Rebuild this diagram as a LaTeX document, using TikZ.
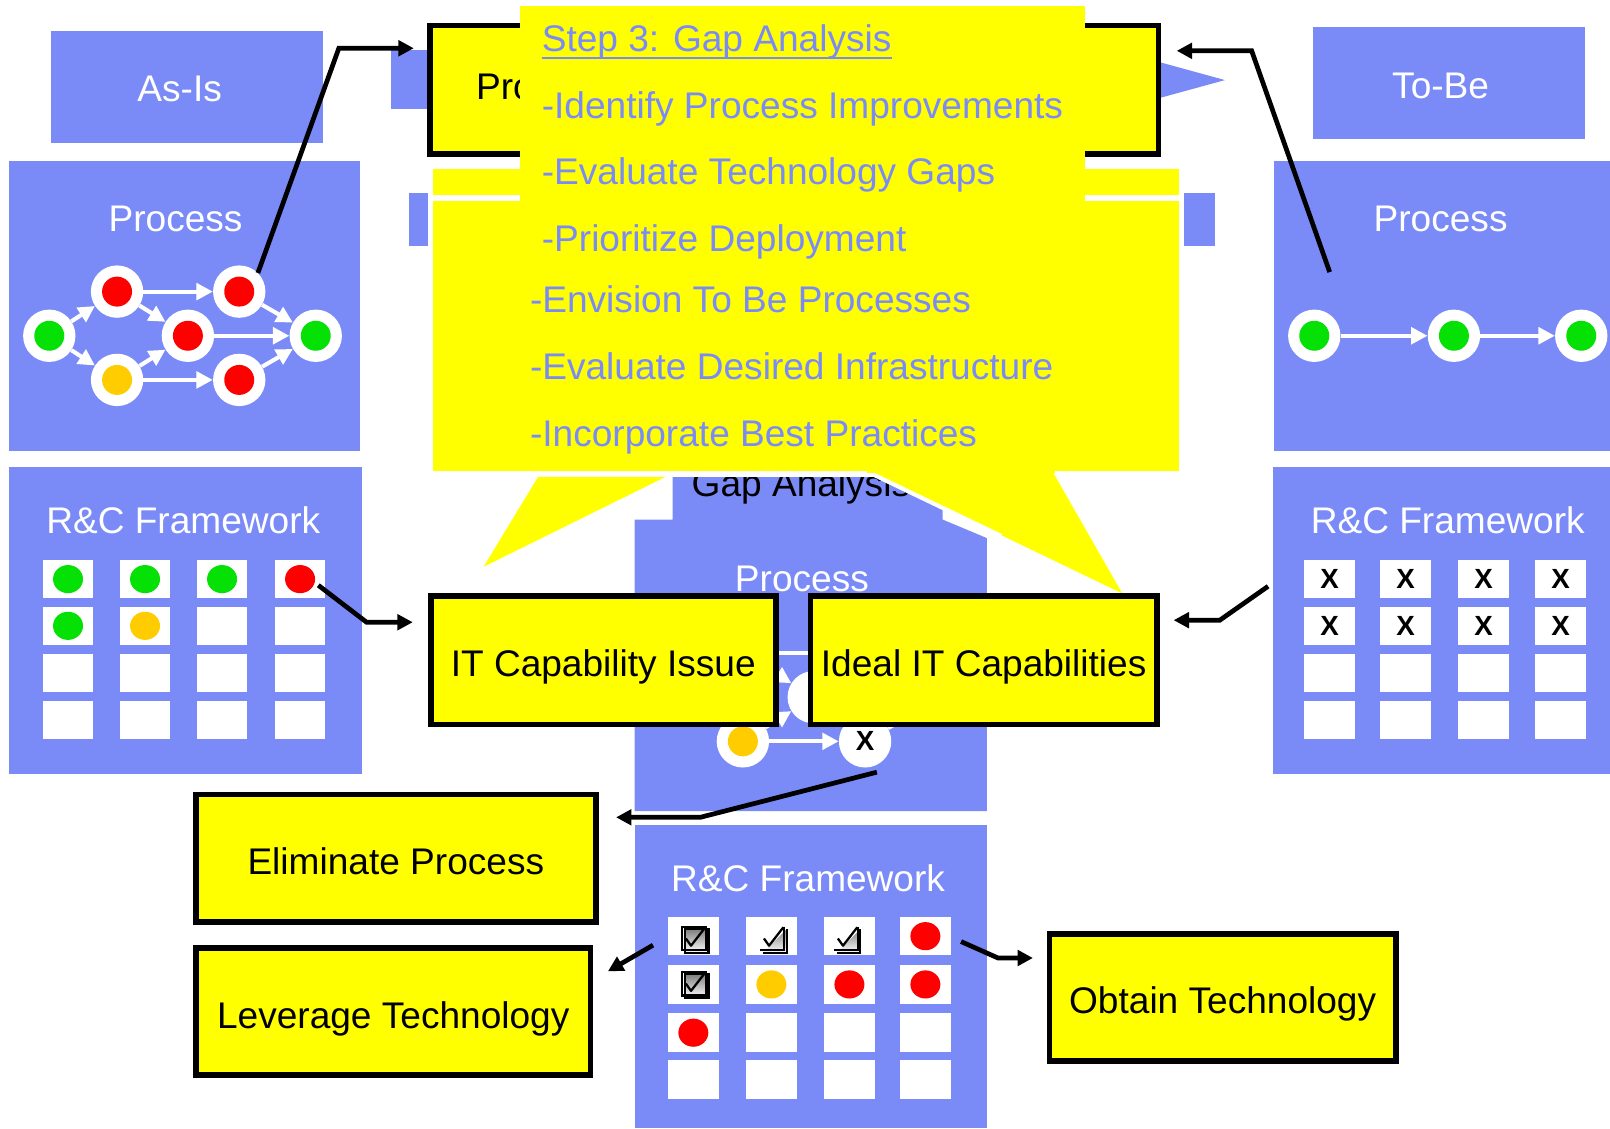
\documentclass[tikz,border=0pt]{standalone}
\usepackage{fontspec}
\setmainfont{Liberation Sans}
\usetikzlibrary{arrows.meta}
\definecolor{slate}{RGB}{122,139,248}
\definecolor{yel}{RGB}{255,255,0}
\definecolor{grn}{RGB}{5,224,5}
\definecolor{rd}{RGB}{255,0,0}
\definecolor{amb}{RGB}{255,204,0}
\definecolor{shade}{RGB}{100,100,100}
\newcommand\slidefont{\fontsize{36.1}{42}\selectfont}
\newcommand\markfont{\fontsize{27}{30}\selectfont\bfseries}

\begin{document}
\begin{tikzpicture}[x=1pt,y=-1pt,
  paneltitle/.style={anchor=base, text=white, font=\slidefont, inner sep=0pt},
  ring/.style={circle, fill=white, minimum size=51pt, inner sep=0pt},
  dotring/.style={ring, path picture={\fill[#1] (path picture bounding box.center) circle (14.6pt);}},
  xring/.style={ring, font=\markfont, text=black},
  flow/.style={white, line width=4pt, -{Triangle[length=16pt,width=16pt]}},
  conn/.style={black, line width=4.6pt, line join=miter, -{Triangle[length=15pt,width=15pt]}},
  ybox/.style={draw=black, fill=yel, line width=5.5pt, inner sep=0pt, font=\slidefont,
               text=black, text height=32pt, text depth=0pt},
  ctext/.style={anchor=base west, inner sep=0pt, text=slate, font=\slidefont},
  xmark/.style={font=\markfont, text=black, inner sep=0pt},
  chkfull/.pic={
    \draw[shade, line width=2pt] (-9,-9) rectangle (14,14);
    \draw[black, line width=2pt] (-11.5,-11.5) rectangle (11.5,11.5);
    \draw[black, line width=2.2pt, line join=round] (-8,0) -- (-3,7) -- (11,-11);
  },
  chkpart/.pic={
    \draw[shade, line width=2pt] (14,-9) -- (14,14) -- (-9,14);
    \draw[black, line width=2pt] (11.5,-11.5) -- (11.5,11.5) -- (-11.5,11.5);
    \draw[black, line width=2.2pt, line join=round] (-8,0) -- (-3,7) -- (11,-11);
  },
]
\useasboundingbox (0,0) rectangle (1568,1099);
\fill[white] (0,0) rectangle (1568,1099);

% ---------- headings ----------
\fill[slate] (50,30) rectangle (314.5,139);
\node[paneltitle] (asis) at (175,99) {As-Is};
\fill[slate] (1278.5,26) rectangle (1543.5,135);
\node[paneltitle] (tobe) at (1403,96) {To-Be};

% ---------- top step: blue arrow behind a framed box ----------
\fill[slate] (381,48.5) rectangle (1100,106.5);
\fill[slate] (1100,52.5) -- (1193,78) -- (1100,103.5) -- cycle;
\node[ybox, minimum width=709.5pt, minimum height=125.5pt] (topbox) at (773.5,87.5) {};
\node[anchor=base west, font=\slidefont, inner sep=0pt] (toptext) at (463.5,96.5) {Pro};

% second row arrow ends
\fill[slate] (398,188) rectangle (425,240);
\fill[slate] (1145,188) rectangle (1183,240);

% ---------- As-Is process ----------
\fill[slate] (9,157) rectangle (351,439);
\node[paneltitle] (lproc) at (171,225) {Process};
\begin{scope}[shift={(48,327)}]
  \node[dotring=grn] (La) at (0,0) {};
  \node[dotring=rd]  (Lb) at (66,-43) {};
  \node[dotring=amb] (Lc) at (66,43) {};
  \node[dotring=rd]  (Ld) at (185,-43) {};
  \node[dotring=rd]  (Le) at (135,0) {};
  \node[dotring=rd]  (Lf) at (185,43) {};
  \node[dotring=grn] (Lg) at (259.5,0) {};
\end{scope}
\foreach \s/\t in {La/Lb,La/Lc,Lb/Ld,Lb/Le,Lc/Le,Lc/Lf,Ld/Lg,Le/Lg,Lf/Lg}
  \draw[flow] (\s) -- (\t);

% ---------- To-Be process ----------
\fill[slate] (1241,157) rectangle (1568,439);
\node[paneltitle] (rproc) at (1403,225) {Process};
\node[dotring=grn] (Ra) at (1280,327) {};
\node[dotring=grn] (Rb) at (1416,327) {};
\node[dotring=grn] (Rc) at (1540,327) {};
\draw[flow] (Ra) -- (Rb);
\draw[flow] (Rb) -- (Rc);

% ---------- As-Is framework ----------
\fill[slate] (9,455) rectangle (353,754);
\node[paneltitle] (lfw) at (178.5,520) {R\&C Framework};
\foreach \c in {42,117,192,268}
  \foreach \r in {545.5,591,637,683}
    \fill[white] (\c,\r) rectangle ++(48.5,37);
\foreach \x/\y/\col in {66.25/564/grn,141.25/564/grn,216.25/564/grn,292.25/564/rd,
                        66.25/609.5/grn,141.25/609.5/amb}
  \fill[\col] (\x,\y) ellipse [x radius=14.6pt, y radius=13.7pt];

% ---------- To-Be framework ----------
\fill[slate] (1240,455) rectangle (1568,754);
\node[paneltitle] (rfw) at (1410,520) {R\&C Framework};
\foreach \c in {1270,1344,1420,1495}
  \foreach \r in {545.5,591,637,683}
    \fill[white] (\c,\r) rectangle ++(50,37);
\foreach \x [count=\i] in {1295,1369,1445,1520}
  \foreach \y [count=\j] in {564,609.5}
    \node[xmark] (rx\i\j) at (\x,\y) {X};

% ---------- gap analysis panel ----------
\fill[slate] (655,440) -- (918,440) -- (918,506) -- (961,524) -- (961,790)
  -- (618,790) -- (618,506) -- (655,506) -- cycle;
\node[anchor=base, font=\slidefont, inner sep=0pt] (gaptitle) at (780,484) {Gap Analysis};
\node[paneltitle] (cproc) at (781,576) {Process};
\begin{scope}[shift={(657.5,679)}]
  \node[dotring=grn] (Ca) at (0,0) {};
  \node[dotring=rd]  (Cb) at (66,-43) {};
  \node[dotring=amb] (Cc) at (66,43) {};
  \node[dotring=rd]  (Cd) at (185,-43) {};
  \node[ring]        (Ce) at (135,0) {};
  \node[xring]       (Cf) at (185,43) {X};
  \node[dotring=grn] (Cg) at (259.5,0) {};
\end{scope}
\foreach \s/\t in {Ca/Cb,Ca/Cc,Cb/Cd,Cb/Ce,Cc/Ce,Cc/Cf,Cd/Cg,Ce/Cg,Cf/Cg}
  \draw[flow] (\s) -- (\t);

% ---------- yellow panels with white outline ----------
\filldraw[fill=yel, draw=white, line width=5.5pt] (419.25,162.25) rectangle (1150.75,193);
\filldraw[fill=yel, draw=white, line width=5.5pt] (419.25,193) rectangle (1150.75,461.75);

% ---------- callout ----------
\fill[yel] (506.5,5.8) rectangle (1056.5,200);
\fill[yel] (524,464.5) -- (471,552) -- (648,464.5) -- cycle;
\fill[yel] (846,459) -- (1093,578) -- (1025,459) -- cycle;
\draw[white, line width=4pt] (846,460) -- (975,522);
\fill[yel] (844,455) rectangle (1027,460.5);

\node[ctext] (step)  at (527.5,50.3)  {Step 3: Gap Analysis};
\draw[slate, line width=2.5pt] ([yshift=-6pt]step.base west) -- ([yshift=-6pt]step.base east);
\node[ctext] (item1) at (527.5,115.3) {-Identify Process Improvements};
\node[ctext] (item2) at (527.5,180)   {-Evaluate Technology Gaps};
\node[ctext] (item3) at (527.5,245)   {-Prioritize Deployment};
\node[ctext] (item4) at (516,304.6)   {-Envision To Be Processes};
\node[ctext] (item5) at (516,369.3)   {-Evaluate Desired Infrastructure};
\node[ctext] (item6) at (516,434.5)   {-Incorporate Best Practices};

% ---------- capability boxes ----------
\node[ybox, minimum width=336pt, minimum height=125pt] (issue) at (587.5,643) {IT Capability Issue};
\node[ybox, minimum width=337pt, minimum height=125pt] (ideal) at (958,643) {Ideal IT Capabilities};

% ---------- gap framework ----------
\fill[slate] (618.5,803.5) rectangle (961,1099);
\node[paneltitle] (cfw) at (787,868) {R\&C Framework};
\foreach \c in {650.5,726.5,802.5,876.5}
  \foreach \r in {893,940,987,1032.5}
    \fill[white] (\c,\r) rectangle ++(49.5,37.5);
\foreach \x/\y/\col in {901.25/911.75/rd,751.25/958.75/amb,827.25/958.75/rd,
                        901.25/958.75/rd,675.25/1005.75/rd}
  \fill[\col] (\x,\y) ellipse [x radius=14.6pt, y radius=13.7pt];
\pic at (676,914) {chkfull};
\pic at (752,914) {chkpart};
\pic at (824,914) {chkpart};
\pic at (676,958) {chkfull};

% ---------- outcome boxes ----------
\node[ybox, minimum width=389.5pt, minimum height=124.5pt] (elim) at (385.5,836) {Eliminate Process};
\node[ybox, minimum width=384.5pt, minimum height=124pt] (lever) at (383,985.25) {Leverage Technology};
\node[ybox, minimum width=337pt, minimum height=123.5pt] (obtain) at (1190.75,971.5) {Obtain Technology};

% ---------- connectors ----------
\coordinate (k1) at (330,47);    \coordinate (t1) at (403,47);
\coordinate (s2) at (1295,265);  \coordinate (k2) at (1219,49.5); \coordinate (t2) at (1146,49.5);
\coordinate (s3) at (310,570);   \coordinate (k3) at (357,606);   \coordinate (t3) at (402,606);
\coordinate (s4) at (1235,571);  \coordinate (k4) at (1188,604);  \coordinate (t4) at (1143,604);
\coordinate (s5) at (854,752);   \coordinate (k5) at (682,796);   \coordinate (t5) at (600,796);
\coordinate (s6) at (636,920.5); \coordinate (t6) at (592,946);
\coordinate (s7) at (936,917);   \coordinate (k7) at (972,933);   \coordinate (t7) at (1006,933);

\draw[conn] (Ld.north east) -- (k1) -- (t1);
\draw[conn] (s2) -- (k2) -- (t2);
\draw[conn] (s3) -- (k3) -- (t3);
\draw[conn] (s4) -- (k4) -- (t4);
\draw[conn] (s5) -- (k5) -- (t5);
\draw[conn] (s6) -- (t6);
\draw[conn] (s7) -- (k7) -- (t7);
\end{tikzpicture}
\end{document}
